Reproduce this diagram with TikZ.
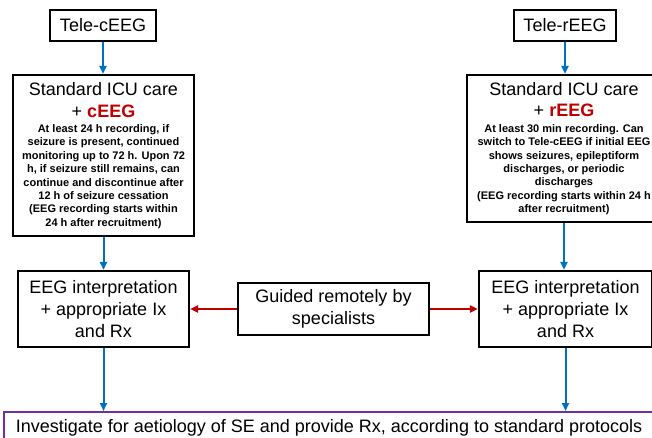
\documentclass[tikz,border=0pt]{standalone}
\usepackage{fontspec}
\setmainfont{Liberation Sans}
\usetikzlibrary{positioning,arrows.meta}
\definecolor{flowblue}{HTML}{0070C0}
\definecolor{eegred}{HTML}{C00000}
\definecolor{boxpurple}{HTML}{7030A0}
\newcommand{\bigtxt}{\fontsize{18}{21.7}\selectfont}
\newcommand{\smalltxt}{\fontsize{11}{13.4}\selectfont\bfseries}

\begin{document}
\begin{tikzpicture}[x=1pt,y=-1pt,
    stepbox/.style={draw,line width=2.2pt,align=flush center,font=\bigtxt,inner sep=0pt},
    flow/.style={draw=flowblue,line width=2pt,-{Triangle[length=8pt,width=7pt]}},
    redflow/.style={draw=eegred,line width=2pt,-{Triangle[length=8pt,width=7pt]}}]
    \useasboundingbox (0,0) rectangle (652,437);
    \clip (0,0) rectangle (652,437);

    \node[stepbox,minimum width=106pt,minimum height=31pt] (teleC) at (103,25.5) {Tele-cEEG};
    \node[stepbox,minimum width=102pt,minimum height=31pt] (teleR) at (565,25.5) {Tele-rEEG};

    \node[stepbox,text width=181pt,minimum height=161pt] (icuC) at (103.5,155.5) {%
      Standard ICU care\\
      + \textbf{\textcolor{eegred}{cEEG}}\par\vspace{2pt}
      {\smalltxt At least 24 h recording, if\\
      seizure is present, continued\\
      monitoring up to 72 h. Upon 72\\
      h, if seizure still remains, can\\
      continue and discontinue after\\
      12 h of seizure cessation\\
      (EEG recording starts within\\
      24 h after recruitment)\par}};
    \node[stepbox,text width=194pt,minimum height=147pt] (icuR) at (564,148.5) {%
      Standard ICU care\\
      + \textbf{\textcolor{eegred}{rEEG}}\par\vspace{2pt}
      {\smalltxt At least 30 min recording. Can\\
      switch to Tele-cEEG if initial EEG\\
      shows seizures, epileptiform\\
      discharges, or periodic\\
      discharges\\
      (EEG recording starts within 24 h\\
      after recruitment)\par}};

    \node[stepbox,minimum width=171pt,minimum height=76pt] (interpC) at (103.5,309) {EEG interpretation\\+ appropriate Ix\\and Rx};
    \node[stepbox,minimum width=173pt,minimum height=76pt] (interpR) at (565.5,309) {EEG interpretation\\+ appropriate Ix\\and Rx};
    \node[stepbox,minimum width=191pt,minimum height=52pt] (remote) at (333.5,309) {Guided remotely by\\specialists};

    \node[draw=boxpurple,line width=1.8pt,font=\bigtxt,minimum width=650pt,inner ysep=8pt,anchor=north] (final) at (329,411)
      {Investigate for aetiology of SE and provide Rx, according to standard protocols};

    % connectors
    \draw[flow] (teleC.south) -- (teleC.south |- icuC.north);
    \draw[flow] (icuC.south) -- (interpC.north);
    \draw[flow] (interpC.south) -- (interpC.south |- final.north);
    \draw[flow] (teleR.south) -- (teleR.south |- icuR.north);
    \draw[flow] (icuR.south) -- (icuR.south |- interpR.north);
    \draw[flow] (interpR.south) -- (interpR.south |- final.north);
    \draw[redflow] (remote.west) -- (interpC.east);
    \draw[redflow] (remote.east) -- (interpR.west);
\end{tikzpicture}
\end{document}
